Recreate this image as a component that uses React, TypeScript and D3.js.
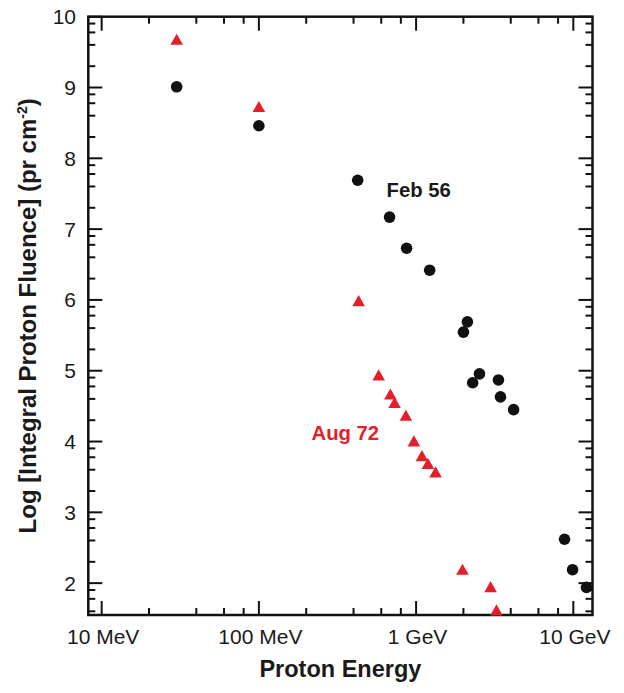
import React from "react";
import * as d3 from "d3";

// Feb 56 event (black circles): energy in MeV, log10 integral fluence
const febEnergy = [30, 100, 425, 678, 870, 1220, 2000, 2120, 2290, 2530, 3340, 3440, 4170, 8790, 9890, 12130];
const febLogFluence = [9.01, 8.46, 7.69, 7.17, 6.73, 6.42, 5.545, 5.69, 4.83, 4.955, 4.87, 4.63, 4.45, 2.62, 2.19, 1.94];

// Aug 72 event (red triangles)
const augEnergy = [30, 100, 431, 578, 686, 730, 861, 968, 1089, 1189, 1330, 1972, 2976, 3245];
const augLogFluence = [9.68, 8.73, 5.99, 4.94, 4.67, 4.55, 4.37, 4.007, 3.8, 3.69, 3.57, 2.195, 1.95, 1.62];

const xMajorTicks = [10, 100, 1000, 10000];
const xTickLabels = ["10 MeV", "100 MeV", "1 GeV", "10 GeV"];
const yMajorTicks = [2, 3, 4, 5, 6, 7, 8, 9, 10];
const minorMultipliers = [2, 4, 6, 8];

const W = 624;
const H = 693;
const left = 88.3;
const right = 592.5;
const top = 16.7;
const bottom = 615;

const RED = "#e3202a";
const BLACK = "#111111";
const FONT = "'Liberation Sans', Arial, Helvetica, sans-serif";

export default function App() {
  const x = d3.scaleLog().domain([Math.pow(10, 0.915), Math.pow(10, 4.122)]).range([left, right]);
  const y = d3.scaleLinear().domain([1.55, 10]).range([bottom, top]);

  const [xd0, xd1] = x.domain();
  const [yd0, yd1] = y.domain();

  const xMinor: number[] = [];
  for (let n = 0; n <= 4; n++) {
    for (const k of minorMultipliers) {
      const v = k * Math.pow(10, n);
      if (v >= xd0 && v <= xd1) xMinor.push(v);
    }
  }
  const yMinor: number[] = [];
  for (let n = 1; n <= 9; n++) {
    for (const k of minorMultipliers) {
      const v = n + Math.log10(k);
      if (v > yd0 && v < yd1) yMinor.push(v);
    }
  }

  const MAJ = 14;
  const MIN = 7;
  const tickStroke = 2;

  const tri = (cx: number, cy: number) => {
    const p = d3.path();
    p.moveTo(cx, cy - 5.7);
    p.lineTo(cx + 6.3, cy + 5.5);
    p.lineTo(cx - 6.3, cy + 5.5);
    p.closePath();
    return p.toString();
  };

  return (
    <svg
      width={W}
      height={H}
      style={{ position: "absolute", left: 0, top: 0, background: "#fff" }}
      fontFamily={FONT}
    >
      {/* ticks */}
      <g stroke={BLACK} strokeWidth={tickStroke}>
        {xMajorTicks.map((t) => (
          <g key={"xM" + t}>
            <line x1={x(t)} x2={x(t)} y1={bottom} y2={bottom - MAJ} />
            <line x1={x(t)} x2={x(t)} y1={top} y2={top + MAJ} />
          </g>
        ))}
        {xMinor.map((t) => (
          <g key={"xm" + t}>
            <line x1={x(t)} x2={x(t)} y1={bottom} y2={bottom - MIN} />
            <line x1={x(t)} x2={x(t)} y1={top} y2={top + MIN} />
          </g>
        ))}
        {yMajorTicks.map((t) => (
          <g key={"yM" + t}>
            <line x1={left} x2={left + MAJ} y1={y(t)} y2={y(t)} />
            <line x1={right} x2={right - MAJ} y1={y(t)} y2={y(t)} />
          </g>
        ))}
        {yMinor.map((t) => (
          <g key={"ym" + t}>
            <line x1={left} x2={left + MIN} y1={y(t)} y2={y(t)} />
            <line x1={right} x2={right - MIN} y1={y(t)} y2={y(t)} />
          </g>
        ))}
      </g>
      {/* frame */}
      <rect
        x={left}
        y={top}
        width={right - left}
        height={bottom - top}
        fill="none"
        stroke={BLACK}
        strokeWidth={2.5}
      />

      {/* tick labels */}
      <g fontSize={21} fill="#1a1a1a">
        {yMajorTicks.map((t) => (
          <text key={"yl" + t} x={76} y={y(t)} dy="0.36em" textAnchor="end">
            {t}
          </text>
        ))}
        {xMajorTicks.map((t, i) => (
          <text key={"xl" + t} x={x(t) + 1.5} y={644} textAnchor="middle">
            {xTickLabels[i]}
          </text>
        ))}
      </g>

      {/* axis titles */}
      <text x={(left + right) / 2} y={677} textAnchor="middle" fontSize={23.5} fontWeight="bold" fill="#1a1a1a">
        Proton Energy
      </text>
      <text
        transform={`translate(36,${(top + bottom) / 2}) rotate(-90)`}
        textAnchor="middle"
        fontSize={24}
        fontWeight="bold"
        fill="#1a1a1a"
      >
        Log [Integral Proton Fluence] (pr cm
        <tspan fontSize={14} dy={-9}>-2</tspan>
        <tspan dy={9}>)</tspan>
      </text>

      {/* data */}
      {febEnergy.map((e, i) => (
        <circle key={"f" + i} cx={x(e)} cy={y(febLogFluence[i])} r={5.8} fill={BLACK} />
      ))}
      {augEnergy.map((e, i) => (
        <path key={"a" + i} d={tri(x(e), y(augLogFluence[i]))} fill={RED} />
      ))}

      {/* series labels */}
      <text x={386.5} y={196.5} fontSize={20.3} fontWeight="bold" fill="#1a1a1a">
        Feb 56
      </text>
      <text x={311.5} y={440} fontSize={20.3} fontWeight="bold" fill={RED}>
        Aug 72
      </text>
    </svg>
  );
}
